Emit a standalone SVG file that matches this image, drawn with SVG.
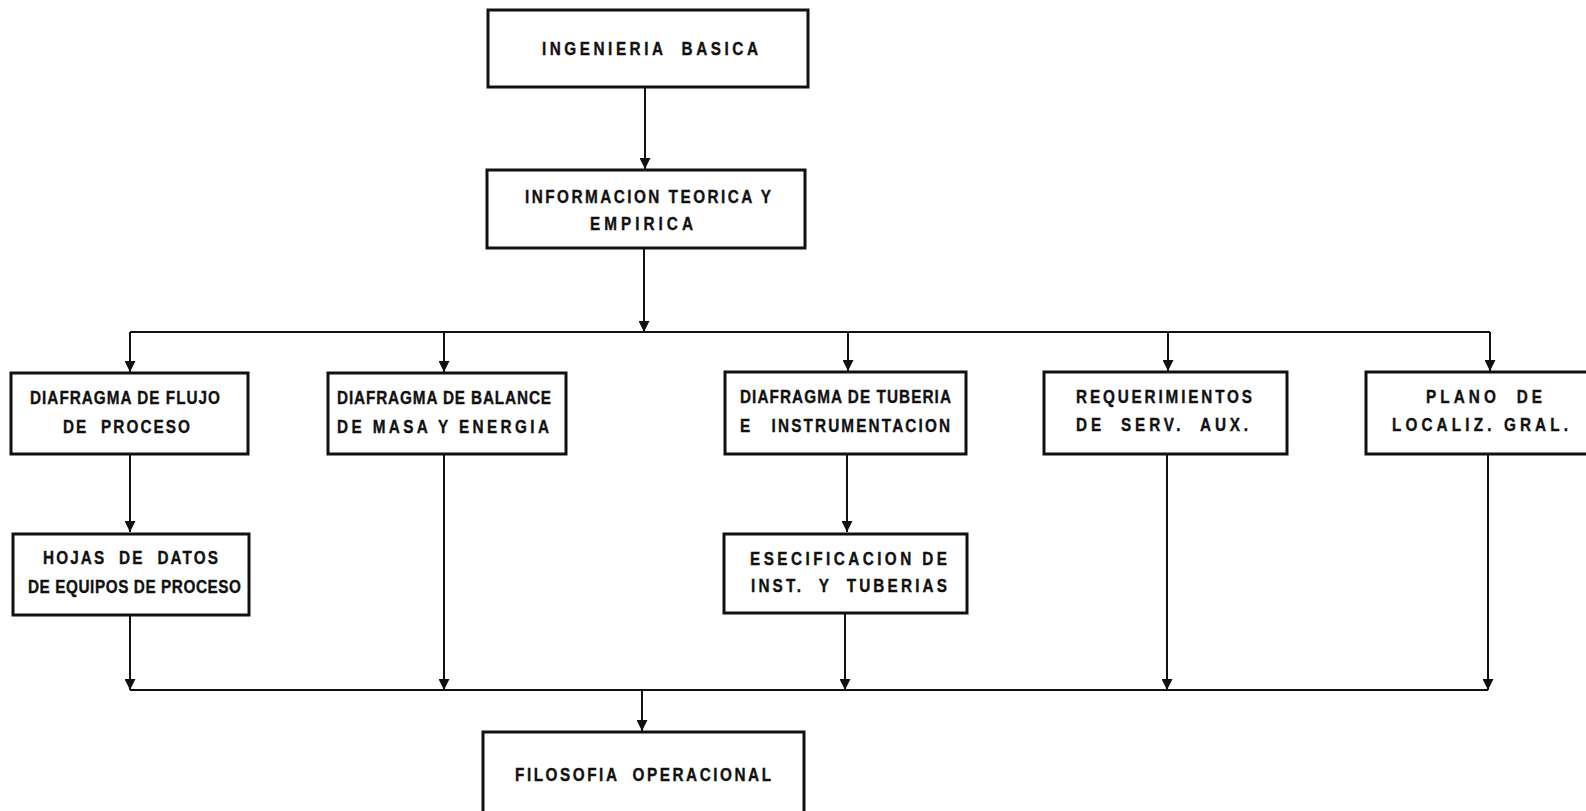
<svg xmlns="http://www.w3.org/2000/svg" width="1586" height="811" viewBox="0 0 1586 811">
  <defs>
    <style>
      .box { fill: none; stroke: #111; stroke-width: 3; }
      .ln { fill: none; stroke: #111; stroke-width: 2; }
      .arr { fill: none; stroke: #111; stroke-width: 2; marker-end: url(#ah); }
      .t { font-family: "Liberation Sans", Arial, sans-serif; font-weight: bold; font-size: 18px; fill: #111; stroke: #111; stroke-width: 0.35; white-space: pre; }
    </style>
    <marker id="ah" viewBox="0 0 10 10" refX="10" refY="5" markerWidth="12" markerHeight="11" markerUnits="userSpaceOnUse" orient="auto">
      <path d="M0,0 L10,5 L0,10 z" fill="#111"/>
    </marker>
  </defs>
  <rect x="0" y="0" width="1586" height="811" fill="#ffffff"/>

  <g id="connectors">
    <line class="arr" x1="645" y1="87" x2="645" y2="169"/>
    <line class="arr" x1="644" y1="248" x2="644" y2="332"/>
    <line class="ln" x1="130" y1="332" x2="1490" y2="332"/>
    <line class="arr" x1="130" y1="332" x2="130" y2="372"/>
    <line class="arr" x1="444" y1="332" x2="444" y2="372"/>
    <line class="arr" x1="848" y1="332" x2="848" y2="371"/>
    <line class="arr" x1="1168" y1="332" x2="1168" y2="371"/>
    <line class="arr" x1="1490" y1="332" x2="1490" y2="371"/>
    <line class="arr" x1="130" y1="454" x2="130" y2="532"/>
    <line class="arr" x1="847" y1="454" x2="847" y2="532"/>
    <line class="arr" x1="130" y1="615" x2="130" y2="690"/>
    <line class="arr" x1="444" y1="454" x2="444" y2="690"/>
    <line class="arr" x1="845" y1="613" x2="845" y2="690"/>
    <line class="arr" x1="1167" y1="454" x2="1167" y2="690"/>
    <line class="arr" x1="1488" y1="454" x2="1488" y2="690"/>
    <line class="ln" x1="130" y1="690" x2="1488" y2="690"/>
    <line class="arr" x1="642" y1="690" x2="642" y2="731"/>
  </g>

  <g id="n-ingenieria">
    <rect class="box" x="488" y="10" width="320" height="77"/>
    <text class="t" transform="scale(0.85 1)" x="637.6" y="55" textLength="254.1" lengthAdjust="spacing">INGENIERIA  BASICA</text>
  </g>
  <g id="n-informacion">
    <rect class="box" x="487" y="170" width="318" height="78"/>
    <text class="t" transform="scale(0.85 1)" x="617.6" y="203" textLength="289.4" lengthAdjust="spacing">INFORMACION TEORICA Y</text>
    <text class="t" transform="scale(0.85 1)" x="694.1" y="230" textLength="121.2" lengthAdjust="spacing">EMPIRICA</text>
  </g>
  <g id="n-flujo">
    <rect class="box" x="11" y="373" width="237" height="81"/>
    <text class="t" transform="scale(0.85 1)" x="35.3" y="404" textLength="223.5" lengthAdjust="spacing">DIAFRAGMA DE FLUJO</text>
    <text class="t" transform="scale(0.85 1)" x="74.1" y="433" textLength="149.4" lengthAdjust="spacing">DE  PROCESO</text>
  </g>
  <g id="n-balance">
    <rect class="box" x="328" y="373" width="238" height="81"/>
    <text class="t" transform="scale(0.85 1)" x="396.5" y="404" textLength="251.8" lengthAdjust="spacing">DIAFRAGMA DE BALANCE</text>
    <text class="t" transform="scale(0.85 1)" x="396.5" y="433" textLength="249.4" lengthAdjust="spacing">DE MASA Y ENERGIA</text>
  </g>
  <g id="n-tuberia">
    <rect class="box" x="725" y="372" width="241" height="82"/>
    <text class="t" transform="scale(0.85 1)" x="870.6" y="403" textLength="248.2" lengthAdjust="spacing">DIAFRAGMA DE TUBERIA</text>
    <text class="t" transform="scale(0.85 1)" x="870.6" y="432" textLength="247.1" lengthAdjust="spacing">E   INSTRUMENTACION</text>
  </g>
  <g id="n-requerimientos">
    <rect class="box" x="1044" y="372" width="243" height="82"/>
    <text class="t" transform="scale(0.85 1)" x="1265.9" y="403" textLength="207.1" lengthAdjust="spacing">REQUERIMIENTOS</text>
    <text class="t" transform="scale(0.85 1)" x="1265.9" y="431" textLength="202.4" lengthAdjust="spacing">DE  SERV.  AUX.</text>
  </g>
  <g id="n-plano">
    <rect class="box" x="1366" y="372" width="232" height="82"/>
    <text class="t" transform="scale(0.85 1)" x="1677.6" y="403" textLength="136.5" lengthAdjust="spacing">PLANO  DE</text>
    <text class="t" transform="scale(0.85 1)" x="1637.6" y="431" textLength="207.1" lengthAdjust="spacing">LOCALIZ. GRAL.</text>
  </g>
  <g id="n-hojas">
    <rect class="box" x="13" y="534" width="236" height="81"/>
    <text class="t" transform="scale(0.85 1)" x="50.6" y="564" textLength="205.9" lengthAdjust="spacing">HOJAS  DE  DATOS</text>
    <text class="t" transform="scale(0.85 1)" x="32.9" y="593" textLength="250.6" lengthAdjust="spacing">DE EQUIPOS DE PROCESO</text>
  </g>
  <g id="n-especificacion">
    <rect class="box" x="724" y="534" width="243" height="79"/>
    <text class="t" transform="scale(0.85 1)" x="882.4" y="565" textLength="231.8" lengthAdjust="spacing">ESECIFICACION DE</text>
    <text class="t" transform="scale(0.85 1)" x="883.5" y="592" textLength="230.6" lengthAdjust="spacing">INST.  Y  TUBERIAS</text>
  </g>
  <g id="n-filosofia">
    <rect class="box" x="483" y="732" width="321" height="100"/>
    <text class="t" transform="scale(0.85 1)" x="605.9" y="781" textLength="301.2" lengthAdjust="spacing">FILOSOFIA  OPERACIONAL</text>
  </g>
</svg>
